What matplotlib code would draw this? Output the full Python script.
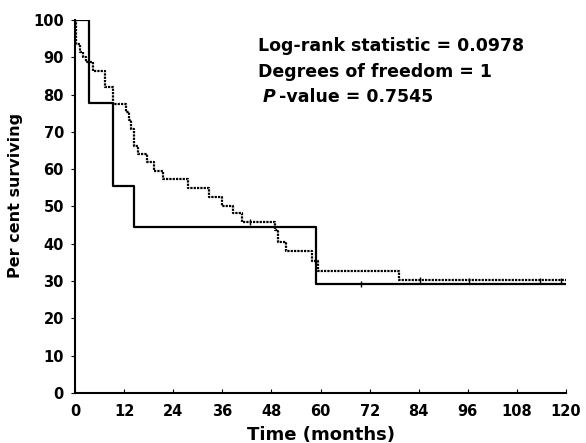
import matplotlib.pyplot as plt
import numpy as np

plt.rcParams['font.family'] = ['DejaVu Sans']
plt.rcParams['font.weight'] = 'bold'

# group A (solid line) - survival steps
t_solid = [0, 3.5, 9.4, 14.4, 59.0, 120]
s_solid = [100, 77.8, 55.6, 44.4, 29.2, 29.2]
cens_solid_t = [70]
cens_solid_s = [29.2]

# group B (dotted line) - survival steps
t_dot = [0, 0.3, 1.2, 2.0, 2.7, 4.5, 7.3, 9.4, 12.4, 13.2, 13.6, 14.3, 15.3,
         17.5, 19.4, 21.4, 27.7, 32.8, 35.9, 38.7, 40.8, 48.9, 49.5, 51.6,
         57.9, 59.5, 79.2, 120]
s_dot = [100, 93.5, 91.5, 90, 88.8, 86.4, 82, 77.5, 75.4, 73.2, 70.8, 66.3,
         64.1, 61.8, 59.6, 57.3, 55, 52.6, 50.2, 48.2, 45.9, 43.7, 40.6, 38.1,
         35.4, 32.8, 30.3, 30.0]
cens_dot_t = [42.8, 84.3, 96.2, 113.7, 118.7]
cens_dot_s = [45.9, 30.2, 30.1, 30.0, 30.0]

xticks = np.arange(0, 121, 12)
yticks = np.arange(0, 101, 10)

fig = plt.figure(figsize=(5.86, 4.43), dpi=100)
ax = fig.add_axes([0.128, 0.113, 0.838, 0.842])

ax.step(t_solid, s_solid, where='post', color='black', lw=1.6)
ax.step(t_dot, s_dot, where='post', color='black', lw=1.6, linestyle=(0, (1, 0.5)))
ax.plot(cens_solid_t, cens_solid_s, '|', color='black', ms=4, mew=1)
ax.plot(cens_dot_t, cens_dot_s, '|', color='black', ms=4, mew=1)

ax.set_xlim(0, 120)
ax.set_ylim(0, 100)
ax.set_xticks(xticks)
ax.set_yticks(yticks)
ax.spines['top'].set_visible(False)
ax.spines['right'].set_visible(False)
ax.spines['left'].set_linewidth(1.5)
ax.spines['bottom'].set_linewidth(1.5)
ax.tick_params(axis='x', direction='in', length=3, labelsize=10.5, pad=8)
ax.tick_params(axis='y', direction='out', length=3, labelsize=10.5, pad=5)
for lab in ax.get_xticklabels() + ax.get_yticklabels():
    lab.set_fontweight('bold')

ax.set_xlabel('Time (months)', fontsize=13, fontweight='bold', labelpad=5)
ax.set_ylabel('Per cent surviving', fontsize=11.5, fontweight='bold')
ax.yaxis.set_label_coords(-0.105, 0.53)

ax.text(0.373, 0.930, 'Log-rank statistic = 0.0978', transform=ax.transAxes,
        fontsize=12.5, fontweight='bold', va='center')
ax.text(0.373, 0.861, 'Degrees of freedom = 1', transform=ax.transAxes,
        fontsize=12.5, fontweight='bold', va='center')
ptxt = ax.text(0.383, 0.794, 'P', transform=ax.transAxes, fontsize=12.5,
               fontweight='bold', fontstyle='italic', va='center')
ax.annotate('-value = 0.7545', xy=(1, 0.5), xycoords=ptxt, xytext=(2, 0),
            textcoords='offset points', fontsize=12.5, fontweight='bold', va='center')

fig.savefig('out.png', dpi=100)
